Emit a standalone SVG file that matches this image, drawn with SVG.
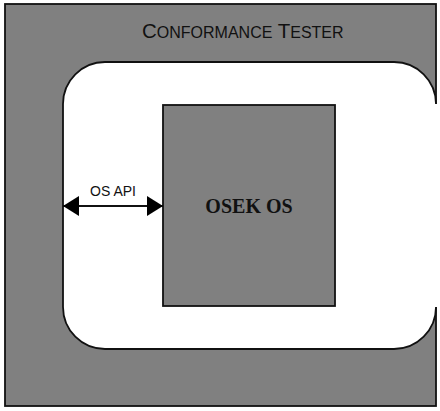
<svg xmlns="http://www.w3.org/2000/svg" width="440" height="411" viewBox="0 0 440 411">
<style>
.gray{fill:#808080;stroke:#111;stroke-width:1.8}
.edge{fill:none;stroke:#111;stroke-width:1.8}
.title{font-family:"Liberation Sans",Arial,sans-serif;fill:#111}
.lbl{font-family:"Liberation Sans",Arial,sans-serif;font-size:14px;fill:#111;text-anchor:middle}
.os{font-family:"Liberation Serif","Times New Roman",serif;font-size:20px;font-weight:bold;fill:#111;text-anchor:middle}
</style>
<defs>
<marker id="ah" viewBox="0 0 16 20" refX="16" refY="10" markerWidth="16" markerHeight="20" markerUnits="userSpaceOnUse" orient="auto-start-reverse">
<path d="M0,0 L16,10 L0,20 Z" fill="#000"/>
</marker>
</defs>
<rect x="0" y="0" width="440" height="411" fill="#fff"/>
<g id="tester">
<rect class="gray" x="5" y="4" width="431" height="402"/>
<text class="title" x="142" y="38"><tspan font-size="20.5">C</tspan><tspan font-size="16">ONFORMANCE</tspan><tspan font-size="20.5"> T</tspan><tspan font-size="16">ESTER</tspan></text>
</g>
<g id="api-area">
<path d="M105,62 H394 A42,42 0 0 1 436,104 V307 A42,42 0 0 1 394,349 H105 A42,42 0 0 1 63,307 V104 A42,42 0 0 1 105,62 Z" fill="#fff"/>
<rect x="436" y="104" width="4" height="203" fill="#fff"/>
<path class="edge" d="M436,104 A42,42 0 0 0 394,62 H105 A42,42 0 0 0 63,104 V307 A42,42 0 0 0 105,349 H394 A42,42 0 0 0 436,307"/>
</g>
<g id="osek-os">
<rect class="gray" x="163" y="105" width="172" height="201"/>
<text class="os" x="249" y="213">OSEK OS</text>
</g>
<g id="connectors">
<line x1="63" y1="206" x2="163" y2="206" stroke="#111" stroke-width="1.8" marker-start="url(#ah)" marker-end="url(#ah)"/>
<text class="lbl" x="113" y="196">OS API</text>
</g>
</svg>
